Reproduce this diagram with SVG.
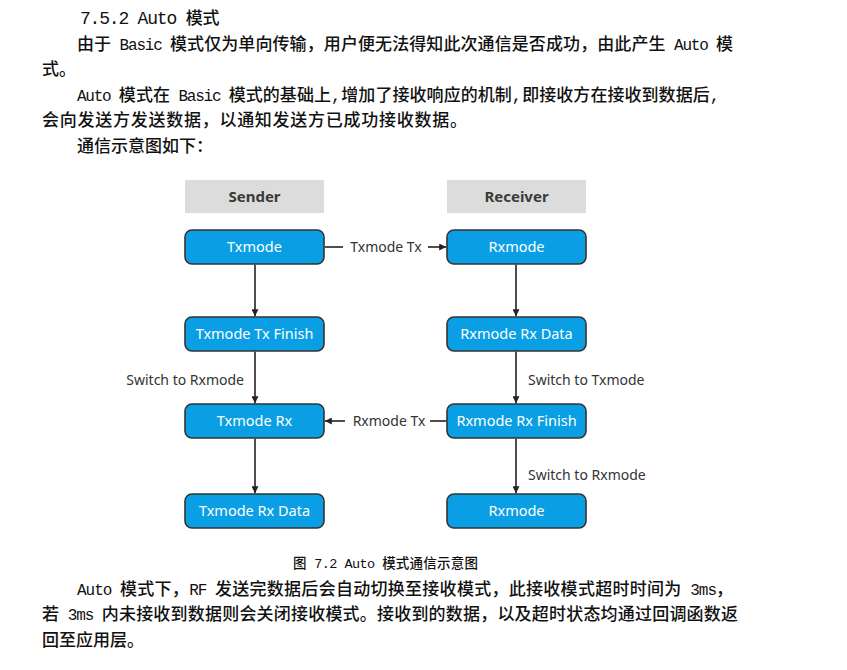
<svg xmlns="http://www.w3.org/2000/svg" width="847" height="670" viewBox="0 0 847 670">
<defs>
<marker id="ah" viewBox="0 0 10 10" refX="10" refY="5" markerWidth="7" markerHeight="7" markerUnits="userSpaceOnUse" orient="auto">
<path d="M0,0 L10,5 L0,10 z" fill="#2a2020"/>
</marker>
<style>
.body{font-family:"Liberation Mono","Noto Sans CJK SC",monospace;font-size:17px;font-weight:500;fill:#111}
.l{font-size:16px;font-weight:normal;letter-spacing:-1.3px}
.hdr rect{fill:#dcdcdc}
.hdr text{font-family:"Noto Sans","Noto Sans CJK SC",sans-serif;font-weight:bold;font-size:15px;fill:#3a3a3a;text-anchor:middle}
.node rect{fill:#0a9fe4;stroke:#333;stroke-width:1.6}
.node text{font-family:"Noto Sans","Noto Sans CJK SC",sans-serif;font-size:14.5px;fill:#fff;text-anchor:middle}
.edge line{stroke:#2a2020;stroke-width:1.6;fill:none}
.lbl{font-family:"Noto Sans","Noto Sans CJK SC",sans-serif;font-size:14px;fill:#333}
</style>
</defs>
<rect width="847" height="670" fill="#fff"/>

<g id="text-top">
<text class="body" x="80" y="24"><tspan class="l" style="font-size:18px;letter-spacing:-1.2px">7.5.2 Auto </tspan>模式</text>
<text class="body" x="77" y="50" textLength="656" lengthAdjust="spacing">由于<tspan class="l"> Basic </tspan>模式仅为单向传输，用户便无法得知此次通信是否成功，由此产生<tspan class="l"> Auto </tspan>模</text>
<text class="body" x="42" y="75">式。</text>
<text class="body" x="77" y="101" textLength="643" lengthAdjust="spacing"><tspan class="l">Auto </tspan>模式在<tspan class="l"> Basic </tspan>模式的基础上,增加了接收响应的机制,即接收方在接收到数据后,</text>
<text class="body" x="42" y="126" textLength="425" lengthAdjust="spacing">会向发送方发送数据，以通知发送方已成功接收数据。</text>
<text class="body" x="77" y="152">通信示意图如下：</text>
</g>

<g id="hdr-sender" class="hdr"><rect x="185" y="180" width="139" height="33"/><text x="254.5" y="202">Sender</text></g>
<g id="hdr-receiver" class="hdr"><rect x="447" y="180" width="139" height="33"/><text x="516.5" y="202">Receiver</text></g>

<g id="n-txmode" class="node"><rect x="185" y="230" width="139" height="34" rx="7"/><text x="254.5" y="252">Txmode</text></g>
<g id="n-txfinish" class="node"><rect x="185" y="317" width="139" height="34" rx="7"/><text x="254.5" y="339">Txmode Tx Finish</text></g>
<g id="n-txrx" class="node"><rect x="185" y="404" width="139" height="34" rx="7"/><text x="254.5" y="426">Txmode Rx</text></g>
<g id="n-txrxdata" class="node"><rect x="185" y="494" width="139" height="34" rx="7"/><text x="254.5" y="516">Txmode Rx Data</text></g>

<g id="n-rxmode" class="node"><rect x="447" y="230" width="139" height="34" rx="7"/><text x="516.5" y="252">Rxmode</text></g>
<g id="n-rxdata" class="node"><rect x="447" y="317" width="139" height="34" rx="7"/><text x="516.5" y="339">Rxmode Rx Data</text></g>
<g id="n-rxfinish" class="node"><rect x="447" y="404" width="139" height="34" rx="7"/><text x="516.5" y="426">Rxmode Rx Finish</text></g>
<g id="n-rxmode2" class="node"><rect x="447" y="494" width="139" height="34" rx="7"/><text x="516.5" y="516">Rxmode</text></g>

<g id="connectors" class="edge">
<line x1="255" y1="264.8" x2="255" y2="316.2" marker-end="url(#ah)"/>
<line x1="255" y1="351.8" x2="255" y2="403.2" marker-end="url(#ah)"/>
<line x1="255" y1="438.8" x2="255" y2="493.2" marker-end="url(#ah)"/>
<line x1="516" y1="264.8" x2="516" y2="316.2" marker-end="url(#ah)"/>
<line x1="516" y1="351.8" x2="516" y2="403.2" marker-end="url(#ah)"/>
<line x1="516" y1="438.8" x2="516" y2="493.2" marker-end="url(#ah)"/>
<line x1="324.8" y1="247" x2="343" y2="247"/>
<line x1="428" y1="247" x2="446.2" y2="247" marker-end="url(#ah)"/>
<line x1="446.2" y1="421" x2="430" y2="421"/>
<line x1="345" y1="421" x2="324.8" y2="421" marker-end="url(#ah)"/>
<text class="lbl" x="386" y="252" text-anchor="middle">Txmode Tx</text>
<text class="lbl" x="389" y="426" text-anchor="middle">Rxmode Tx</text>
<text class="lbl" x="244" y="385" text-anchor="end">Switch to Rxmode</text>
<text class="lbl" x="528" y="385">Switch to Txmode</text>
<text class="lbl" x="528" y="480">Switch to Rxmode</text>
</g>

<g id="text-bottom">
<text class="body" x="293" y="568" style="font-size:13.5px" textLength="185" lengthAdjust="spacing">图<tspan class="l" style="font-size:13.5px;letter-spacing:-0.8px"> 7.2 Auto </tspan>模式通信示意图</text>
<text class="body" x="77" y="595" textLength="656" lengthAdjust="spacing"><tspan class="l">Auto </tspan>模式下，<tspan class="l">RF </tspan>发送完数据后会自动切换至接收模式，此接收模式超时时间为<tspan class="l"> 3ms</tspan>，</text>
<text class="body" x="42" y="620" textLength="696" lengthAdjust="spacing">若<tspan class="l"> 3ms </tspan>内未接收到数据则会关闭接收模式。接收到的数据，以及超时状态均通过回调函数返</text>
<text class="body" x="42" y="646">回至应用层。</text>
</g>
</svg>
